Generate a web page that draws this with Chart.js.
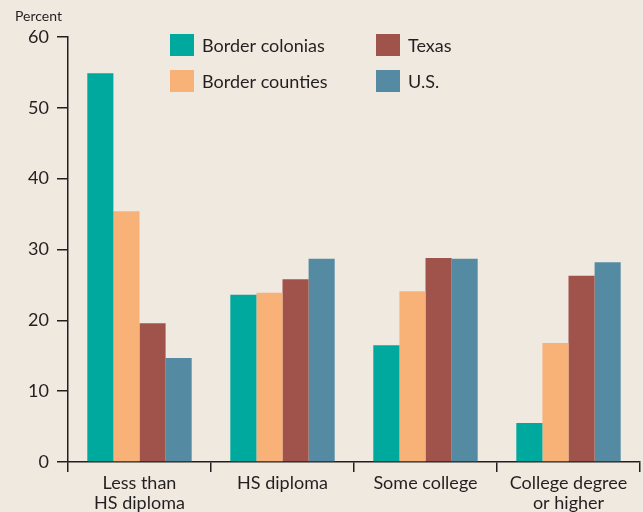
<!DOCTYPE html>
<html><head><meta charset="utf-8">
<script src="https://cdn.jsdelivr.net/npm/chart.js@4/dist/chart.umd.min.js"></script>
<style>html,body{margin:0;padding:0;background:#f0e9e0;}#wrap{position:relative;width:643px;height:512px;}</style>
</head><body><div id="wrap"><canvas id="c" width="643" height="512"></canvas></div>
<script>
const categories = [["Less than","HS diploma"],"HS diploma","Some college",["College degree","or higher"]];
const borderColonias = [54.9, 23.6, 16.5, 5.5];
const borderCounties = [35.4, 23.9, 24.1, 16.8];
const texas = [19.6, 25.8, 28.8, 26.3];
const us = [14.7, 28.7, 28.7, 28.2];
const yTicks = [0,10,20,30,40,50,60];
const seriesNames = ["Border colonias","Border counties","Texas","U.S."];
const colors = ["#00a99e","#f8b177","#a0534a","#548ba2"];
const FONT = "Lato, 'Open Sans', sans-serif";
const INK = "#231f20";

const bg = {id:'bg', beforeDraw(c){const x=c.ctx;x.save();x.fillStyle='#f0e9e0';x.fillRect(0,0,c.width,c.height);x.restore();}};
const legendPlugin = {id:'lg', afterDraw(c){
  const x=c.ctx; x.save();
  const pos=[[170,34],[170,70],[376,34],[376,70]];
  c.data.datasets.forEach((d,i)=>{
    const [px,py]=pos[i];
    x.fillStyle=d.backgroundColor; x.fillRect(px,py,24,22);
    x.fillStyle=INK; x.font="18px "+FONT; x.textBaseline='middle'; x.textAlign='left';
    x.fillText(d.label, px+32, py+12);
  });
  x.font="14px "+FONT; x.textBaseline='middle'; x.fillText("Percent", 15, 16);
  x.restore();
}};

new Chart(document.getElementById('c'), {
  type:'bar',
  data:{labels:categories, datasets:[
    {label:seriesNames[0], data:borderColonias, backgroundColor:colors[0]},
    {label:seriesNames[1], data:borderCounties, backgroundColor:colors[1]},
    {label:seriesNames[2], data:texas, backgroundColor:colors[2]},
    {label:seriesNames[3], data:us, backgroundColor:colors[3]}
  ]},
  options:{
    responsive:false, animation:false,
    layout:{padding:{top:37,right:3,left:0,bottom:0}},
    datasets:{bar:{categoryPercentage:0.73, barPercentage:1.0, borderWidth:0}},
    plugins:{legend:{display:false}, tooltip:{enabled:false}},
    scales:{
      x:{
        offset:true,
        grid:{display:true, drawOnChartArea:false, drawTicks:true, tickLength:10, color:INK, lineWidth:1.5, offset:true},
        border:{display:true, color:INK, width:1.5},
        ticks:{color:INK, font:{family:FONT, size:18, lineHeight:1.1}, padding:1, maxRotation:0, autoSkip:false},
        afterFit(s){s.height=50;}
      },
      y:{
        min:0, max:60,
        afterBuildTicks(s){s.ticks=yTicks.map(v=>({value:v}));},
        grid:{display:true, drawOnChartArea:false, drawTicks:true, tickLength:11, color:INK, lineWidth:1.5},
        border:{display:true, color:INK, width:1.5},
        ticks:{color:INK, font:{family:FONT, size:18}, padding:8},
        afterFit(s){s.width=68;}
      }
    }
  },
  plugins:[bg, legendPlugin]
});
</script></body></html>
